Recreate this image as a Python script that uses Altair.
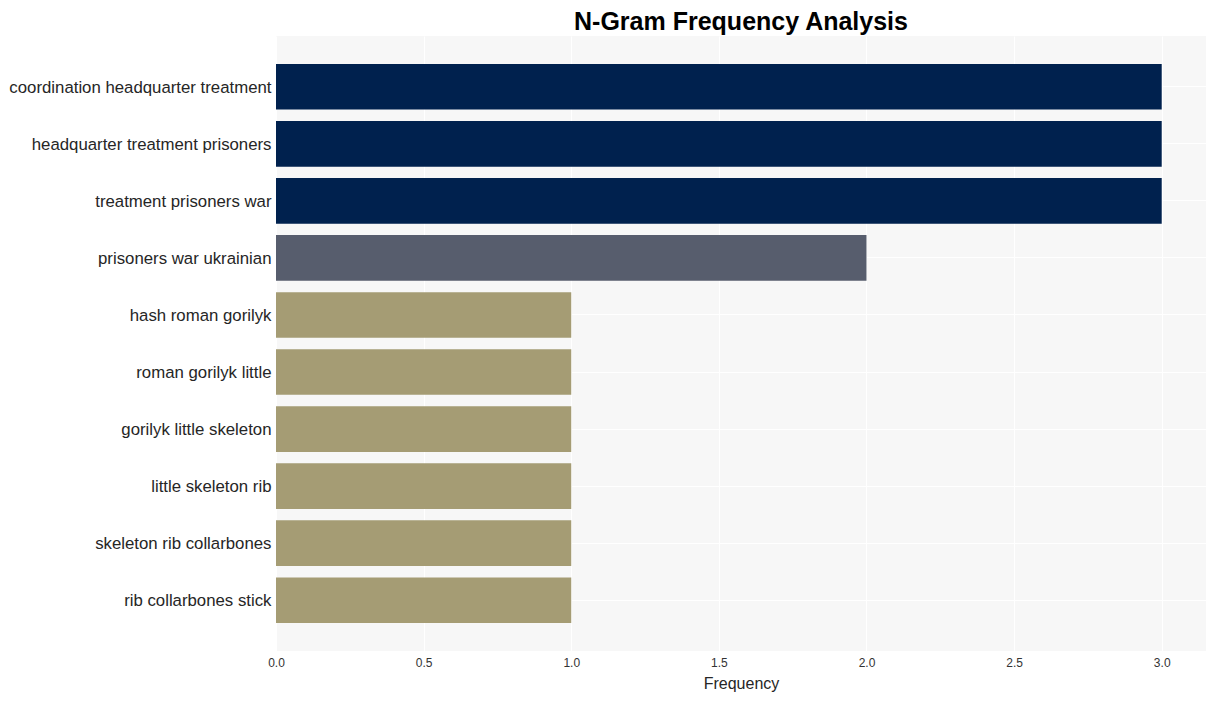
import altair as alt
import pandas as pd

ngrams = [
    "coordination headquarter treatment",
    "headquarter treatment prisoners",
    "treatment prisoners war",
    "prisoners war ukrainian",
    "hash roman gorilyk",
    "roman gorilyk little",
    "gorilyk little skeleton",
    "little skeleton rib",
    "skeleton rib collarbones",
    "rib collarbones stick",
]
frequencies = [3, 3, 3, 2, 1, 1, 1, 1, 1, 1]
levels = ["3", "2", "1"]
level_colors = ["#00214e", "#575d6d", "#a59c74"]

df = pd.DataFrame({
    "ngram": ngrams,
    "freq": frequencies,
    "level": [str(f) for f in frequencies],
})

chart = alt.Chart(df).mark_bar().encode(
    y=alt.Y(
        "ngram:N",
        sort=None,
        title=None,
        scale=alt.Scale(paddingInner=0.2, paddingOuter=0.49),
        axis=alt.Axis(
            bandPosition=0.5,
            grid=True,
            gridColor="white",
            gridWidth=1,
            ticks=False,
            domain=False,
            labelFont="Liberation Sans",
            labelFontSize=16.8,
            labelColor="#262626",
            labelPadding=5,
            labelOffset=1,
            labelLimit=400,
        ),
    ),
    x=alt.X(
        "freq:Q",
        title="Frequency",
        scale=alt.Scale(domain=[0, 3.15], nice=False, zero=True),
        axis=alt.Axis(
            values=[0, 0.5, 1.0, 1.5, 2.0, 2.5, 3.0],
            format=".1f",
            grid=True,
            gridColor="white",
            gridWidth=1,
            ticks=False,
            domain=False,
            labelFlush=False,
            labelFont="Liberation Sans",
            labelFontSize=12,
            labelColor="#333333",
            labelPadding=6,
            titleFont="Liberation Sans",
            titleFontSize=16,
            titleFontWeight="normal",
            titleColor="#262626",
            titlePadding=7,
        ),
    ),
    color=alt.Color(
        "level:N",
        scale=alt.Scale(domain=levels, range=level_colors),
        legend=None,
    ),
).properties(
    width=930,
    height=615,
    title=alt.TitleParams(
        "N-Gram Frequency Analysis",
        font="Liberation Sans",
        fontSize=25,
        fontWeight="bold",
        color="#000000",
        anchor="middle",
        offset=1,
    ),
    autosize=alt.AutoSizeParams(type="none"),
    padding={"left": 268, "top": 28, "right": 1, "bottom": 50},
).configure_view(
    fill="#f7f7f7",
    stroke=None,
)

chart.save("out.html", embed_options={"renderer": "svg", "actions": False})
